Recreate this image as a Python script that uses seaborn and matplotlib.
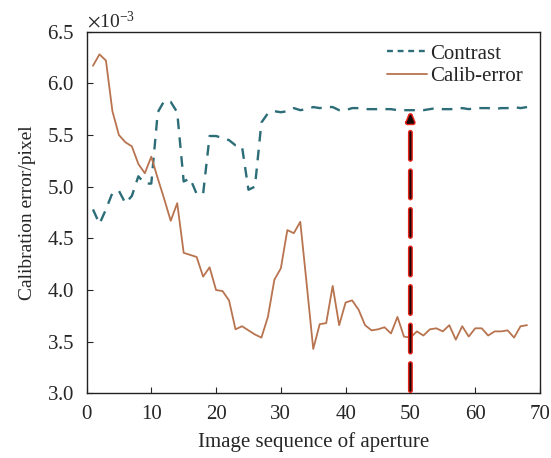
import numpy as np
import pandas as pd
import matplotlib
matplotlib.use("Agg")
import matplotlib.pyplot as plt
import matplotlib.patheffects as pe
import seaborn as sns

# image index along the aperture sweep
frames = list(range(1, 69))

# values in units of 1e-3 pixel
contrast = [4.78, 4.64, 4.78, 4.94, 4.96, 4.84, 4.91, 5.10, 5.03, 5.03,
            5.72, 5.83, 5.82, 5.72, 5.05, 5.08, 4.93, 4.93, 5.49, 5.49,
            5.47, 5.45, 5.40, 5.39, 4.97, 5.00, 5.62, 5.71, 5.73, 5.72,
            5.73, 5.76, 5.74, 5.75, 5.77, 5.76, 5.77, 5.77, 5.74, 5.74,
            5.76, 5.76, 5.75, 5.75, 5.75, 5.75, 5.75, 5.74, 5.74, 5.74,
            5.74, 5.74, 5.75, 5.76, 5.75, 5.75, 5.75, 5.76, 5.75, 5.76,
            5.76, 5.76, 5.75, 5.76, 5.76, 5.77, 5.76, 5.77]
calib_error = [6.17, 6.28, 6.22, 5.73, 5.50, 5.43, 5.39, 5.22, 5.13, 5.29,
               5.08, 4.88, 4.67, 4.84, 4.36, 4.34, 4.32, 4.13, 4.22, 4.00,
               3.99, 3.90, 3.62, 3.65, 3.61, 3.57, 3.54, 3.74, 4.10, 4.21,
               4.58, 4.55, 4.66, 4.05, 3.43, 3.67, 3.68, 4.04, 3.66, 3.88,
               3.90, 3.81, 3.66, 3.61, 3.62, 3.64, 3.58, 3.74, 3.55, 3.54,
               3.60, 3.56, 3.62, 3.63, 3.60, 3.66, 3.52, 3.65, 3.55, 3.63,
               3.63, 3.56, 3.60, 3.60, 3.61, 3.54, 3.65, 3.66]
best_frame = 50
scale = 1e-3

sns.set_style("ticks")
plt.rcParams["font.family"] = ["Liberation Serif", "DejaVu Serif"]
plt.rcParams["mathtext.fontset"] = "stix"

df = pd.DataFrame({"frame": frames,
                   "Contrast": np.array(contrast) * scale,
                   "Calib-error": np.array(calib_error) * scale})

fig = plt.figure(figsize=(5.51, 4.58), dpi=100)
ax = fig.add_axes([0.157, 0.141, 0.823, 0.790])

sns.lineplot(data=df, x="frame", y="Contrast", ax=ax, color="#2c6d78",
             lw=1.7, label="Contrast")
ax.lines[-1].set_dashes([4.5, 3.5])
sns.lineplot(data=df, x="frame", y="Calib-error", ax=ax, color="#b8734f",
             lw=1.3, label="Calib-error")

# arrow marking the selected image
best_val = df.loc[df["frame"] == best_frame, "Contrast"].iloc[0]
ax.annotate("", xy=(best_frame, best_val), xytext=(best_frame, 3.0 * scale),
            arrowprops=dict(arrowstyle="-|>,head_length=0.5,head_width=0.2",
                            color="#1a0505", lw=1.5, linestyle=(0, (13, 5.5)),
                            path_effects=[pe.Stroke(linewidth=3.6, foreground="#e8261c"),
                                          pe.Normal()]),
            zorder=5)

ax.set_xlim(0, 70)
ax.set_ylim(3.0 * scale, 6.5 * scale)
ax.set_xticks(range(0, 71, 10))
ax.set_yticks(np.arange(3.0, 6.51, 0.5) * scale)
ax.ticklabel_format(axis="y", style="sci", scilimits=(-3, -3), useMathText=True)
ax.yaxis.get_offset_text().set_fontsize(14)
ax.tick_params(direction="in", labelsize=15, length=4, width=0.8)
ax.tick_params(axis="y", pad=9)
ax.tick_params(axis="x", pad=8)
for s in ax.spines.values():
    s.set_linewidth(1.0)
    s.set_color("#222222")

ax.set_xlabel("Image sequence of aperture", fontsize=15, labelpad=6)
ax.set_ylabel("Calibration error/pixel", fontsize=14, labelpad=8)

leg = ax.legend(loc="upper right", frameon=False, fontsize=15, handlelength=1.9,
                handletextpad=0.15, labelspacing=0.15, borderaxespad=0.2,
                bbox_to_anchor=(0.99, 1.0))
leg.get_lines()[0].set_dashes([2.5, 2.0])

fig.savefig("out.png", dpi=100)
